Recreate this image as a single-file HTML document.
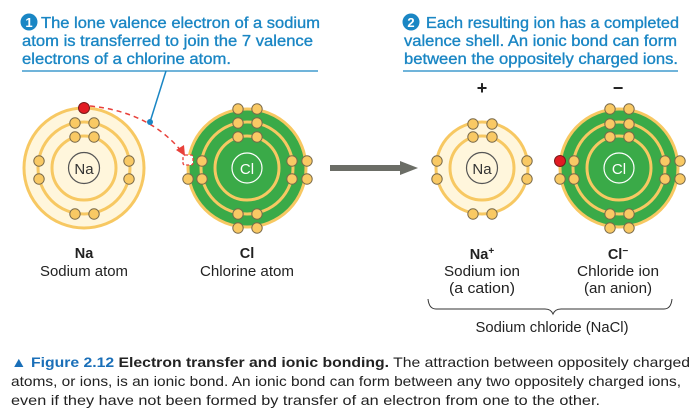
<!DOCTYPE html>
<html><head><meta charset="utf-8"><style>
html,body{margin:0;padding:0;background:#fff;}
svg{display:block;}
text{font-family:"Liberation Sans",sans-serif;}
</style></head><body>
<svg width="700" height="417" viewBox="0 0 700 417" xmlns="http://www.w3.org/2000/svg">
<defs>
<g id="e"><circle r="5.2" fill="#f9c964" stroke="#7a6a4a" stroke-width="1"/></g>
</defs>

<!-- top texts -->
<circle cx="29" cy="22" r="8.5" fill="#1a86c4"/>
<text x="29" y="27" font-size="13" font-weight="bold" fill="#fff" text-anchor="middle">1</text>
<g fill="#1a86c4" stroke="#1a86c4" stroke-width="0.35" font-size="15.5">
<text x="41" y="28" textLength="279" lengthAdjust="spacingAndGlyphs">The lone valence electron of a sodium</text>
<text x="22" y="46" textLength="291" lengthAdjust="spacingAndGlyphs">atom is transferred to join the 7 valence</text>
<text x="22" y="64" textLength="209" lengthAdjust="spacingAndGlyphs">electrons of a chlorine atom.</text>
</g>
<line x1="22" y1="71" x2="318" y2="71" stroke="#1a86c4" stroke-width="1.2"/>

<circle cx="411" cy="22" r="8.5" fill="#1a86c4"/>
<text x="411" y="27" font-size="13" font-weight="bold" fill="#fff" text-anchor="middle">2</text>
<g fill="#1a86c4" stroke="#1a86c4" stroke-width="0.35" font-size="15.5">
<text x="426" y="28" textLength="253" lengthAdjust="spacingAndGlyphs">Each resulting ion has a completed</text>
<text x="404" y="46" textLength="273" lengthAdjust="spacingAndGlyphs">valence shell. An ionic bond can form</text>
<text x="404" y="64" textLength="274" lengthAdjust="spacingAndGlyphs">between the oppositely charged ions.</text>
</g>
<line x1="403" y1="71" x2="678" y2="71" stroke="#1a86c4" stroke-width="1.2"/>

<!-- Na atom -->
<circle cx="84" cy="168" r="60" fill="#fff6dc" stroke="#f7c862" stroke-width="3"/>
<circle cx="84" cy="168" r="46" fill="none" stroke="#f7c862" stroke-width="3"/>
<circle cx="84" cy="168" r="32" fill="none" stroke="#f7c862" stroke-width="3"/>
<circle cx="84" cy="168" r="15.5" fill="#fff6dc" stroke="#555" stroke-width="1.2"/>
<text x="84" y="174" font-size="15" fill="#333" text-anchor="middle">Na</text>
<use href="#e" x="75" y="123"/><use href="#e" x="94" y="123"/>
<use href="#e" x="75" y="137"/><use href="#e" x="94" y="137"/>
<use href="#e" x="39" y="161"/><use href="#e" x="39" y="179"/>
<use href="#e" x="129" y="161"/><use href="#e" x="129" y="179"/>
<use href="#e" x="75" y="214"/><use href="#e" x="94" y="214"/>
<circle cx="84" cy="108" r="5.5" fill="#e21b23" stroke="#7a1a1a" stroke-width="1"/>

<!-- transfer path -->
<path d="M90 106 Q150 112 182 152" fill="none" stroke="#e8403a" stroke-width="1.5" stroke-dasharray="5,4"/>
<path d="M176 150 L185 156 L184 145 Z" fill="#e8403a"/>
<line x1="166" y1="71" x2="150" y2="122" stroke="#1a86c4" stroke-width="1.5"/>
<circle cx="150" cy="122" r="3" fill="#1a86c4"/>

<!-- Cl atom -->
<circle cx="247" cy="168" r="59" fill="#3aaa48" stroke="#f7c862" stroke-width="3"/>
<circle cx="247" cy="168" r="46" fill="none" stroke="#f7c862" stroke-width="3"/>
<circle cx="247" cy="168" r="32" fill="none" stroke="#f7c862" stroke-width="3"/>
<circle cx="247" cy="168" r="15" fill="none" stroke="#fff" stroke-width="1.2"/>
<text x="247" y="174" font-size="15" fill="#fff" text-anchor="middle">Cl</text>
<use href="#e" x="238" y="109"/><use href="#e" x="257" y="109"/>
<use href="#e" x="238" y="123"/><use href="#e" x="257" y="123"/>
<use href="#e" x="238" y="137"/><use href="#e" x="257" y="137"/>
<use href="#e" x="202" y="161"/><use href="#e" x="202" y="179"/>
<use href="#e" x="188" y="179"/>
<use href="#e" x="292" y="161"/><use href="#e" x="292" y="179"/>
<use href="#e" x="307" y="161"/><use href="#e" x="307" y="179"/>
<use href="#e" x="238" y="214"/><use href="#e" x="257" y="214"/>
<use href="#e" x="238" y="228"/><use href="#e" x="257" y="228"/>
<rect x="183" y="155" width="10" height="10" rx="2" fill="#fff" stroke="#e8403a" stroke-width="1.3" stroke-dasharray="3,2"/>

<!-- arrow -->
<rect x="330" y="165" width="72" height="6" fill="#6b6d66"/>
<path d="M400 161 L418 168 L400 175 Z" fill="#6b6d66"/>

<!-- charges -->
<text x="482" y="94" font-size="18" font-weight="bold" fill="#222" text-anchor="middle">+</text>
<text x="618" y="94" font-size="18" font-weight="bold" fill="#222" text-anchor="middle">−</text>

<!-- Na+ -->
<circle cx="482" cy="168" r="46" fill="#fff6dc" stroke="#f7c862" stroke-width="3"/>
<circle cx="482" cy="168" r="32" fill="none" stroke="#f7c862" stroke-width="3"/>
<circle cx="482" cy="168" r="15.5" fill="#fff6dc" stroke="#555" stroke-width="1.2"/>
<text x="482" y="174" font-size="15" fill="#333" text-anchor="middle">Na</text>
<use href="#e" x="473" y="124"/><use href="#e" x="492" y="124"/>
<use href="#e" x="473" y="137"/><use href="#e" x="492" y="137"/>
<use href="#e" x="437" y="161"/><use href="#e" x="437" y="179"/>
<use href="#e" x="527" y="161"/><use href="#e" x="527" y="179"/>
<use href="#e" x="473" y="214"/><use href="#e" x="492" y="214"/>

<!-- Cl- -->
<circle cx="619" cy="168" r="59" fill="#3aaa48" stroke="#f7c862" stroke-width="3"/>
<circle cx="619" cy="168" r="46" fill="none" stroke="#f7c862" stroke-width="3"/>
<circle cx="619" cy="168" r="32" fill="none" stroke="#f7c862" stroke-width="3"/>
<circle cx="619" cy="168" r="15" fill="none" stroke="#fff" stroke-width="1.2"/>
<text x="619" y="174" font-size="15" fill="#fff" text-anchor="middle">Cl</text>
<use href="#e" x="610" y="109"/><use href="#e" x="629" y="109"/>
<use href="#e" x="610" y="124"/><use href="#e" x="629" y="124"/>
<use href="#e" x="610" y="137"/><use href="#e" x="629" y="137"/>
<circle cx="560" cy="161" r="5.5" fill="#e21b23" stroke="#7a1a1a" stroke-width="1"/>
<use href="#e" x="560" y="179"/>
<use href="#e" x="574" y="161"/><use href="#e" x="574" y="179"/>
<use href="#e" x="665" y="161"/><use href="#e" x="665" y="179"/>
<use href="#e" x="680" y="161"/><use href="#e" x="680" y="179"/>
<use href="#e" x="610" y="214"/><use href="#e" x="629" y="214"/>
<use href="#e" x="610" y="228"/><use href="#e" x="629" y="228"/>

<!-- labels -->
<g font-size="14.5" fill="#222" text-anchor="middle">
<text x="84" y="258" font-weight="bold">Na</text>
<text x="84" y="276" textLength="88" lengthAdjust="spacingAndGlyphs">Sodium atom</text>
<text x="247" y="258" font-weight="bold">Cl</text>
<text x="247" y="276" textLength="94" lengthAdjust="spacingAndGlyphs">Chlorine atom</text>
<text x="482" y="259" font-weight="bold">Na<tspan font-size="10" dy="-5">+</tspan></text>
<text x="482" y="276" textLength="76" lengthAdjust="spacingAndGlyphs">Sodium ion</text>
<text x="482" y="293" textLength="66" lengthAdjust="spacingAndGlyphs">(a cation)</text>
<text x="618" y="259" font-weight="bold">Cl<tspan font-size="10" dy="-5">−</tspan></text>
<text x="618" y="276" textLength="82" lengthAdjust="spacingAndGlyphs">Chloride ion</text>
<text x="618" y="293" textLength="68" lengthAdjust="spacingAndGlyphs">(an anion)</text>
<text x="552" y="332" textLength="153" lengthAdjust="spacingAndGlyphs">Sodium chloride (NaCl)</text>
</g>
<path d="M428 299 Q429 309 436 309 L545 309 Q551 309 553 314 Q555 309 561 309 L664 309 Q671 309 672 299" fill="none" stroke="#333" stroke-width="1"/>

<!-- caption -->
<g font-size="14" fill="#222">
<text x="11" y="367" textLength="679" lengthAdjust="spacingAndGlyphs"><tspan fill="#1a6fb8" font-weight="bold">▲ Figure 2.12</tspan><tspan font-weight="bold">  Electron transfer and ionic bonding.</tspan> The attraction between oppositely charged</text>
<text x="11" y="386" textLength="670" lengthAdjust="spacingAndGlyphs">atoms, or ions, is an ionic bond. An ionic bond can form between any two oppositely charged ions,</text>
<text x="11" y="405" textLength="589" lengthAdjust="spacingAndGlyphs">even if they have not been formed by transfer of an electron from one to the other.</text>
</g>
</svg>
</body></html>
